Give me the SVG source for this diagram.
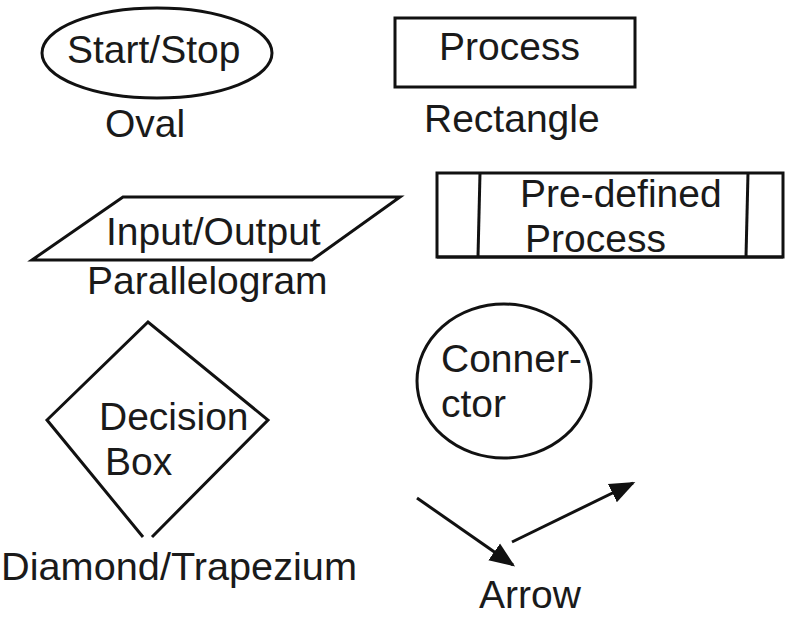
<svg xmlns="http://www.w3.org/2000/svg" width="786" height="617" viewBox="0 0 786 617">
<style>
.s{fill:#fff;stroke:#111;stroke-width:3}
.l{fill:none;stroke:#111;stroke-width:3}
text{font-family:"Liberation Sans",Arial,sans-serif;font-size:39px;fill:#1a1a1a}
</style>
<defs>
<marker id="ah2" viewBox="0 0 10 10" refX="9" refY="5" markerWidth="8.5" markerHeight="8.5" orient="auto">
<path d="M0,1 L10,5 L0,9 z" fill="#111"/>
</marker>
</defs>
<rect width="786" height="617" fill="#fff"/>
<g id="oval">
<ellipse class="s" cx="157" cy="53" rx="115" ry="45"/>
<text x="67" y="63">Start/Stop</text>
<text x="105" y="137">Oval</text>
</g>
<g id="rectangle">
<rect class="s" x="395" y="18" width="240" height="69"/>
<text x="439" y="60">Process</text>
<text x="424" y="132">Rectangle</text>
</g>
<g id="parallelogram">
<polygon class="s" points="123,197 400,197 312,260 32,260"/>
<text x="106" y="245">Input/Output</text>
<text x="87" y="294">Parallelogram</text>
</g>
<g id="predefined">
<rect class="s" x="437" y="173" width="346" height="84"/>
<line class="l" x1="480" y1="173" x2="478" y2="257"/>
<line class="l" x1="748" y1="173" x2="746" y2="257"/>
<text x="520" y="207">Pre-defined</text>
<text x="525" y="252">Process</text>
<line class="l" x1="437" y1="257" x2="783" y2="257"/>
</g>
<g id="decision">
<path class="l" d="M143,537 L47,420 L148,322 L268,420 L152,537"/>
<text x="99" y="430">Decision</text>
<text x="105" y="475">Box</text>
<text x="1" y="580" textLength="356" lengthAdjust="spacingAndGlyphs">Diamond/Trapezium</text>
</g>
<g id="connector">
<ellipse class="s" cx="504" cy="381" rx="87" ry="77"/>
<text x="441" y="372">Conner-</text>
<text x="441" y="417">ctor</text>
</g>
<g id="arrows">
<line class="l" x1="417" y1="498" x2="513" y2="565" marker-end="url(#ah2)"/>
<line class="l" x1="512" y1="542" x2="633" y2="483" marker-end="url(#ah2)"/>
<text x="479" y="608">Arrow</text>
</g>
</svg>
